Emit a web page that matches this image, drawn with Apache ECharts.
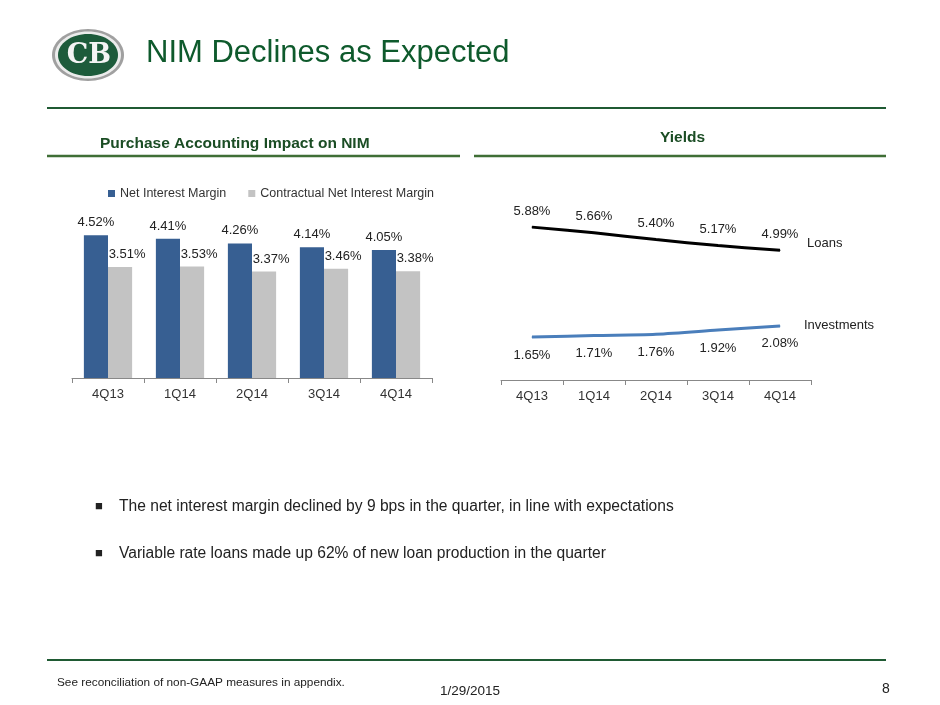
<!DOCTYPE html>
<html>
<head>
    <meta charset="utf-8">
    <title>NIM Declines as Expected</title>
    <style type="text/css">
        html,
        body {
            height: 100%;
        }

        body {
            margin: 0;
            padding: 0;
            background: #fff;
        }

        #main {
            width: 940px;
            height: 705px;
        }
    </style>
</head>

<body>
    <div id="main"></div>
    <script src="https://cdn.jsdelivr.net/npm/echarts@6/dist/echarts.min.js"></script>
    <script type="text/javascript">
        // quarters shared by both charts
        var quarters = ['4Q13', '1Q14', '2Q14', '3Q14', '4Q14'];

        // left chart: purchase accounting impact
        var nimValues = [4.52, 4.41, 4.26, 4.14, 4.05];
        var contractualValues = [3.51, 3.53, 3.37, 3.46, 3.38];

        // right chart: yields
        var loanYields = [5.88, 5.66, 5.40, 5.17, 4.99];
        var investmentYields = [1.65, 1.71, 1.76, 1.92, 2.08];

        var green = '#0e5a2c';
        var font = 'Liberation Sans, Arial, sans-serif';

        function pct(p) {
            return p.value.toFixed(2) + '%';
        }

        var myChart = echarts.init(document.getElementById('main'));

        myChart.setOption({
            backgroundColor: '#fff',
            animation: false,
            textStyle: {
                fontFamily: font
            },
            legend: {
                data: ['Net Interest Margin', 'Contractual Net Interest Margin'],
                left: 103,
                top: 182,
                icon: 'rect',
                itemWidth: 7,
                itemHeight: 7,
                itemGap: 22,
                textStyle: {
                    fontSize: 12.5,
                    color: '#333'
                }
            },
            grid: [{
                left: 72,
                top: 220,
                width: 360,
                height: 158
            }, {
                left: 501,
                top: 198,
                width: 310,
                height: 182
            }],
            xAxis: [{
                type: 'category',
                gridIndex: 0,
                data: quarters,
                axisLine: {
                    lineStyle: { color: '#888' }
                },
                axisTick: {
                    show: true,
                    length: 5,
                    lineStyle: { color: '#888' }
                },
                axisLabel: {
                    color: '#333',
                    fontSize: 13,
                    margin: 10
                }
            }, {
                type: 'category',
                gridIndex: 1,
                data: quarters,
                axisLine: {
                    lineStyle: { color: '#888' }
                },
                axisTick: {
                    show: true,
                    length: 5,
                    lineStyle: { color: '#888' }
                },
                axisLabel: {
                    color: '#333',
                    fontSize: 13,
                    margin: 10
                }
            }],
            yAxis: [{
                type: 'value',
                gridIndex: 0,
                min: 0,
                max: 5,
                show: false,
                splitLine: { show: false }
            }, {
                type: 'value',
                gridIndex: 1,
                min: 0,
                max: 7,
                show: false,
                splitLine: { show: false }
            }],
            series: [{
                name: 'Net Interest Margin',
                type: 'bar',
                xAxisIndex: 0,
                yAxisIndex: 0,
                data: nimValues,
                barGap: '0%',
                barCategoryGap: '33%',
                itemStyle: { color: '#375f92' },
                label: {
                    show: true,
                    position: 'top',
                    distance: 6,
                    fontSize: 13,
                    color: '#222',
                    formatter: pct
                }
            }, {
                name: 'Contractual Net Interest Margin',
                type: 'bar',
                xAxisIndex: 0,
                yAxisIndex: 0,
                data: contractualValues,
                barGap: '0%',
                barCategoryGap: '33%',
                itemStyle: { color: '#c3c3c3' },
                label: {
                    show: true,
                    position: 'top',
                    distance: 6,
                    offset: [7, 0],
                    fontSize: 13,
                    color: '#222',
                    formatter: pct
                }
            }, {
                name: 'Loans',
                type: 'line',
                xAxisIndex: 1,
                yAxisIndex: 1,
                data: loanYields,
                smooth: 0.3,
                symbol: 'circle',
                symbolSize: 1,
                itemStyle: { color: '#000' },
                lineStyle: { color: '#000', width: 3 },
                label: {
                    show: true,
                    position: 'top',
                    distance: 9,
                    fontSize: 13,
                    color: '#222',
                    formatter: pct
                },
                endLabel: {
                    show: true,
                    distance: 27,
                    offset: [0, -7],
                    fontSize: 13,
                    color: '#222',
                    formatter: '{a}'
                }
            }, {
                name: 'Investments',
                type: 'line',
                xAxisIndex: 1,
                yAxisIndex: 1,
                data: investmentYields,
                smooth: 0.3,
                symbol: 'circle',
                symbolSize: 1,
                itemStyle: { color: '#4a7ebb' },
                lineStyle: { color: '#4a7ebb', width: 3 },
                label: {
                    show: true,
                    position: 'bottom',
                    distance: 11,
                    fontSize: 13,
                    color: '#222',
                    formatter: pct
                },
                endLabel: {
                    show: true,
                    distance: 24,
                    fontSize: 13,
                    color: '#222',
                    formatter: '{a}'
                }
            }],
            graphic: [
                // logo
                { type: 'ellipse', shape: { cx: 88, cy: 55, rx: 36, ry: 26 }, style: { fill: '#a0a0a0' } },
                { type: 'ellipse', shape: { cx: 88, cy: 55, rx: 33, ry: 23.5 }, style: { fill: '#ececec' } },
                { type: 'ellipse', shape: { cx: 88, cy: 55, rx: 30, ry: 21 }, style: { fill: '#1d5b3b' } },
                { type: 'text', style: { x: 89, y: 56, text: 'CB', fill: '#f4f4f4', align: 'center', verticalAlign: 'middle', font: 'bold 27px "DejaVu Serif", serif' } },
                // title
                { type: 'text', left: 146, top: 38, style: { text: 'NIM Declines as Expected', fill: green, font: '31px ' + font } },
                { type: 'line', shape: { x1: 47, y1: 108, x2: 886, y2: 108 }, style: { stroke: '#1f5a33', lineWidth: 2 } },
                // section headings
                { type: 'text', left: 100, top: 136, style: { text: 'Purchase Accounting Impact on NIM', fill: '#1b4d24', font: 'bold 15.5px ' + font } },
                { type: 'text', left: 660, top: 130, style: { text: 'Yields', fill: '#1b4d24', font: 'bold 15.5px ' + font } },
                { type: 'line', shape: { x1: 47, y1: 156, x2: 460, y2: 156 }, style: { stroke: '#3f6e35', lineWidth: 2.5 } },
                { type: 'line', shape: { x1: 474, y1: 156, x2: 886, y2: 156 }, style: { stroke: '#3f6e35', lineWidth: 2.5 } },
                // bullets
                { type: 'text', left: 95, top: 500, style: { text: '\u25A0', fill: '#222', font: '13px ' + font } },
                { type: 'text', left: 119, top: 499, style: { text: 'The net interest margin declined by 9 bps in the quarter, in line with expectations', fill: '#222', font: '15.6px ' + font } },
                { type: 'text', left: 95, top: 547, style: { text: '\u25A0', fill: '#222', font: '13px ' + font } },
                { type: 'text', left: 119, top: 546, style: { text: 'Variable rate loans made up 62% of new loan production in the quarter', fill: '#222', font: '15.6px ' + font } },
                // footer
                { type: 'line', shape: { x1: 47, y1: 660, x2: 886, y2: 660 }, style: { stroke: '#1f5a33', lineWidth: 2 } },
                { type: 'text', left: 57, top: 677, style: { text: 'See reconciliation of non-GAAP measures in appendix.', fill: '#222', font: '11.8px ' + font } },
                { type: 'text', left: 440, top: 684, style: { text: '1/29/2015', fill: '#222', font: '13.5px ' + font } },
                { type: 'text', left: 882, top: 682, style: { text: '8', fill: '#222', font: '14px ' + font } }
            ]
        });
    </script>
</body>

</html>
